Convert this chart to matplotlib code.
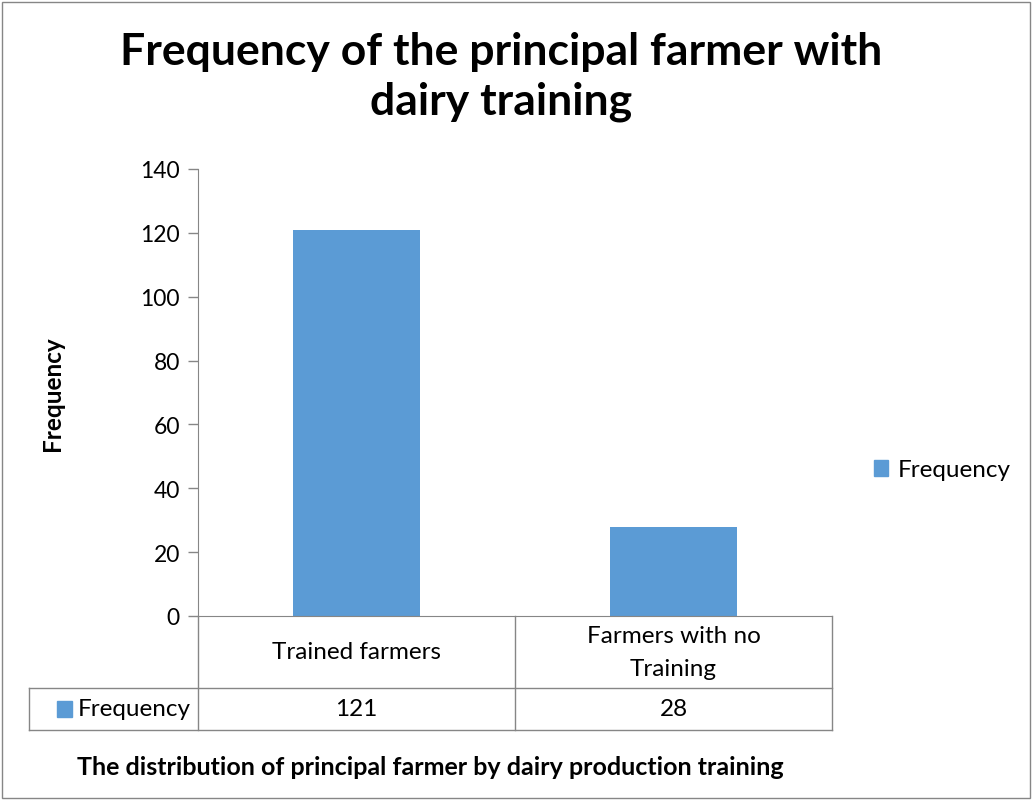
import matplotlib
matplotlib.use("Agg")
import matplotlib.pyplot as plt
from matplotlib.patches import Rectangle
from matplotlib.lines import Line2D

plt.rcParams['font.family'] = ['Lato', 'DejaVu Sans']

categories = ["Trained farmers", "Farmers with no\nTraining"]
values = [121, 28]
series_name = "Frequency"
yticks = [0, 20, 40, 60, 80, 100, 120, 140]

BAR = "#5B9BD5"
GRID = "#868686"

W, H = 1036, 803
fig = plt.figure(figsize=(W / 100, H / 100), dpi=100)
ax = fig.add_axes([198 / W, 1 - 617 / H, (832 - 198) / W, (617 - 170) / H])

x = list(range(len(categories)))
ax.bar(x, values, width=0.4, color=BAR, zorder=2)
ax.set_xlim(-0.5, len(categories) - 0.5)
ax.set_ylim(0, 140)
ax.set_yticks(yticks)
ax.set_yticklabels([str(t) for t in yticks], fontsize=16.5)
ax.set_xticks([])

for s in ["top", "right"]:
    ax.spines[s].set_visible(False)
ax.spines["left"].set_color(GRID)
ax.spines["bottom"].set_color(GRID)
ax.tick_params(axis="y", colors=GRID, labelcolor="black", length=7, width=1, pad=6)

ax.set_ylabel("Frequency", fontsize=17.5, fontweight="bold", labelpad=0)
ax.yaxis.set_label_coords(-(198 - 64) / 634, 0.5)

# data table below the axis
tr = ax.get_xaxis_transform()
row1 = -72 / 447
row2 = -114 / 447
left = -0.5 - 169 / 317
lines = [
    ([-0.5, -0.5], [0, row2]),
    ([0.5, 0.5], [0, row2]),
    ([1.5, 1.5], [0, row2]),
    ([left, 1.5], [row1, row1]),
    ([left, 1.5], [row2, row2]),
    ([left, left], [row1, row2]),
]
for xs, ys in lines:
    ax.add_line(Line2D(xs, ys, transform=tr, color=GRID, lw=1, clip_on=False))

for xi, cat, v in zip(x, categories, values):
    ax.text(xi, row1 / 2, cat, transform=tr, ha="center", va="center",
            fontsize=17.5, linespacing=1.7)
    ax.text(xi, (row1 + row2) / 2, str(v), transform=tr, ha="center",
            va="center", fontsize=17.5)

ax.add_patch(Rectangle((left + 0.088, (row1 + row2) / 2 - 0.017), 0.047, 0.034,
                       transform=tr, color=BAR, clip_on=False))
ax.text(left + 0.155, (row1 + row2) / 2, series_name, transform=tr,
        ha="left", va="center", fontsize=17.5)

# legend
fig.legend([Rectangle((0, 0), 1, 1, color=BAR)], [series_name],
           loc="center left", bbox_to_anchor=(852 / W, 1 - 471 / H),
           frameon=False, fontsize=17.5, handlelength=0.6, handleheight=0.6,
           handletextpad=0.4)

fig.text(501 / W, 1 - 77 / H, "Frequency of the principal farmer with\ndairy training",
         ha="center", va="center", fontsize=32, fontweight="bold", linespacing=1.3)

fig.text(77 / W, 1 - 768 / H,
         "The distribution of principal farmer by dairy production training",
         ha="left", va="center", fontsize=18, fontweight="bold")

fig.add_artist(Rectangle((2 / W, 4 / H), 1028 / W, 796 / H, transform=fig.transFigure,
                         fill=False, edgecolor=GRID, lw=1))

fig.savefig("out.png", dpi=100)
